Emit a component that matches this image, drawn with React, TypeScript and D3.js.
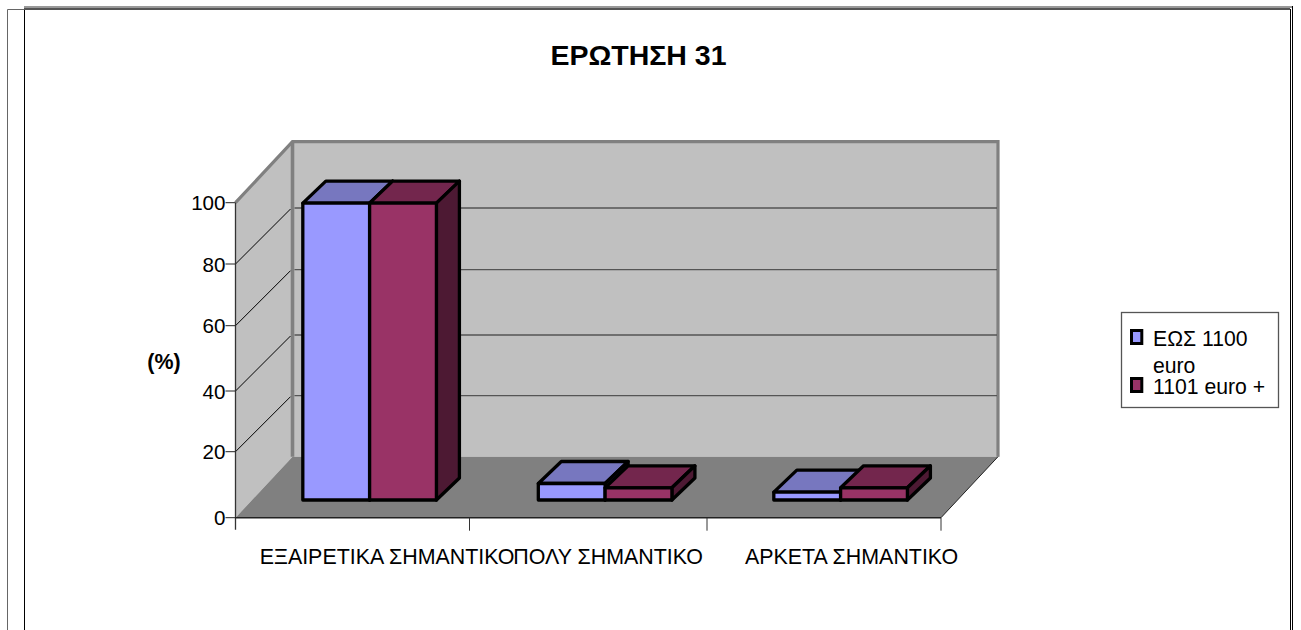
import React from "react";
import * as d3 from "d3";

const title = "ΕΡΩΤΗΣΗ 31";
const categories = ["ΕΞΑΙΡΕΤΙΚΑ ΣΗΜΑΝΤΙΚΟ", "ΠΟΛΥ ΣΗΜΑΝΤΙΚΟ", "ΑΡΚΕΤΑ ΣΗΜΑΝΤΙΚΟ"];
const seriesNames = ["ΕΩΣ 1100 euro", "1101 euro +"];
const seriesA = [94.1, 5, 2.4];
const seriesB = [94.1, 3.7, 3.7];
const ticks = [0, 20, 40, 60, 80, 100];
const colors = [
  { front: "#9999ff", top: "#7777bf", side: "#4c4c80" },
  { front: "#993366", top: "#73264d", side: "#4d1933" },
];

const FONT = "'Liberation Sans', Arial, sans-serif";
const x = d3.scaleLinear().domain([0, 1, 2, 3]).range([235.5, 469.5, 707, 941]);
// The source rendering spaces its ticks slightly unevenly
const y = d3.scaleLinear().domain(ticks).range([517.7, 451.7, 391, 325.7, 264, 202.7]);
const depth = { dx: 57, dy: 61 };
const gridDy = 56;
const barFront = 0.29;
const barDepth = { dx: 23, dy: 22 };
const labelShift = [34, 21, 27];
const groupShift = [0, 1.5, -0.5];
const poly = (pts: number[][]) => pts.map((p) => p.join(",")).join(" ");

export default function App() {
  const bx = depth.dx * barFront;
  const by = -depth.dy * barFront;
  const bandW = (x(3) - x(0)) / 3;
  const barW = 66.8;
  const series = [seriesA, seriesB];
  const xL = x(0), xR = x(3), y0 = y(0), y100 = y(100);
  const D = depth;
  return (
    <svg width={1301} height={630} style={{ position: "absolute", left: 0, top: 0, display: "block" }} fontFamily={FONT}>
      <rect width={1301} height={630} fill="#fff" />
      {/* frame */}
      <path d="M7.5 630V9.5H24" fill="none" stroke="#666" strokeWidth={1} />
      <line x1={24.5} y1={6} x2={24.5} y2={630} stroke="#000" />
      <rect x={24} y={6} width={1268} height={2} fill="#999" />
      <rect x={24} y={8} width={1266} height={2} fill="#555" />
      <line x1={1290.5} y1={9} x2={1290.5} y2={630} stroke="#000" />
      <line x1={1292.5} y1={6} x2={1292.5} y2={630} stroke="#000" />

      <text x={638.5} y={65} textAnchor="middle" fontSize={28.5} fontWeight="bold">{title}</text>

      {/* walls */}
      <polygon points={poly([[xL, y100], [xL + D.dx, y100 - D.dy], [xL + D.dx, y0 - D.dy], [xL, y0]])} fill="#c0c0c0" />
      <polygon points={poly([[xL + D.dx, y100 - D.dy], [xR + D.dx, y100 - D.dy], [xR + D.dx, y0 - D.dy], [xL + D.dx, y0 - D.dy]])} fill="#c0c0c0" />
      <path d={`M${xL} ${y100}L${xL + D.dx} ${y100 - D.dy}H${xR + D.dx}V${y0 - D.dy}`} fill="none" stroke="#808080" strokeWidth={3.2} />
      <line x1={xL + D.dx} y1={y100 - D.dy} x2={xL + D.dx} y2={y0 - D.dy} stroke="#808080" strokeWidth={3.6} />
      <polygon points={poly([[xL, y0], [xR, y0], [xR + D.dx, y0 - D.dy], [xL + D.dx, y0 - D.dy]])} fill="#808080" />

      {/* gridlines */}
      {ticks.slice(1, -1).map((t) => (
        <g key={t}>
          <line x1={xL} y1={y(t)} x2={xL + D.dx - 2} y2={y(t) - gridDy + 1} stroke="#000" strokeWidth={1} />
          <line x1={xL + D.dx + 2} y1={y(t) - gridDy} x2={xR + D.dx - 1} y2={y(t) - gridDy} stroke="#555" strokeWidth={1.3} />
        </g>
      ))}
      {/* axes */}
      <line x1={xL} y1={y100} x2={xL} y2={y0 + 12} stroke="#333" strokeWidth={1.3} />
      <line x1={xL} y1={y0} x2={xR} y2={y0} stroke="#222" strokeWidth={1.5} />
      <line x1={xR} y1={y0} x2={xR + D.dx} y2={y0 - D.dy} stroke="#222" strokeWidth={1} />
      {ticks.map((t) => (
        <g key={t}>
          <line x1={xL - 10} y1={y(t)} x2={xL} y2={y(t)} stroke="#222" />
          <text x={xL - 10} y={y(t) + 7.5} textAnchor="end" fontSize={20.6}>{t}</text>
        </g>
      ))}
      {d3.range(1, 4).map((i) => (
        <line key={i} x1={x(i)} y1={y0} x2={x(i)} y2={y0 + 13} stroke="#333" />
      ))}
      {categories.map((c, i) => (
        <text key={c} x={x(i) + bandW / 2 + labelShift[i]} y={564} textAnchor="middle" fontSize={21.4}>{c}</text>
      ))}
      <text x={164} y={369} textAnchor="middle" fontSize={21.4} fontWeight="bold">(%)</text>

      {/* bars */}
      {categories.map((c, i) =>
        series.map((s, j) => {
          const x0 = x(i) + (bandW - 2 * barW) / 2 + j * barW + bx + groupShift[i];
          const x1 = x0 + barW;
          const yb = y(0) + by;
          const yt = y(s[i]) + by;
          const ex = barDepth.dx, ey = -barDepth.dy;
          const stroke = { stroke: "#000", strokeWidth: 3.3, strokeLinejoin: "round" as const };
          return (
            <g key={c + j}>
              <polygon points={poly([[x0, yt], [x1, yt], [x1 + ex, yt + ey], [x0 + ex, yt + ey]])} fill={colors[j].top} {...stroke} />
              <polygon points={poly([[x1, yt], [x1 + ex, yt + ey], [x1 + ex, yb + ey], [x1, yb]])} fill={colors[j].side} {...stroke} />
              <rect x={x0} y={yt} width={barW} height={yb - yt} fill={colors[j].front} {...stroke} />
            </g>
          );
        })
      )}

      {/* legend */}
      <rect x={1121.5} y={312.5} width={157} height={95} fill="#fff" stroke="#555" strokeWidth={1.3} />
      {colors.map((col, j) => (
        <rect key={j} x={1131.5} y={j === 0 ? 330.5 : 378.5} width={10.3} height={13} fill={col.front} stroke="#000" strokeWidth={3} />
      ))}
      <text x={1153} y={346} fontSize={21.2}>{seriesNames[0].split(" euro")[0]}</text>
      <text x={1153} y={373} fontSize={21.2}>euro</text>
      <text x={1153} y={394} fontSize={21.2}>{seriesNames[1]}</text>
    </svg>
  );
}
